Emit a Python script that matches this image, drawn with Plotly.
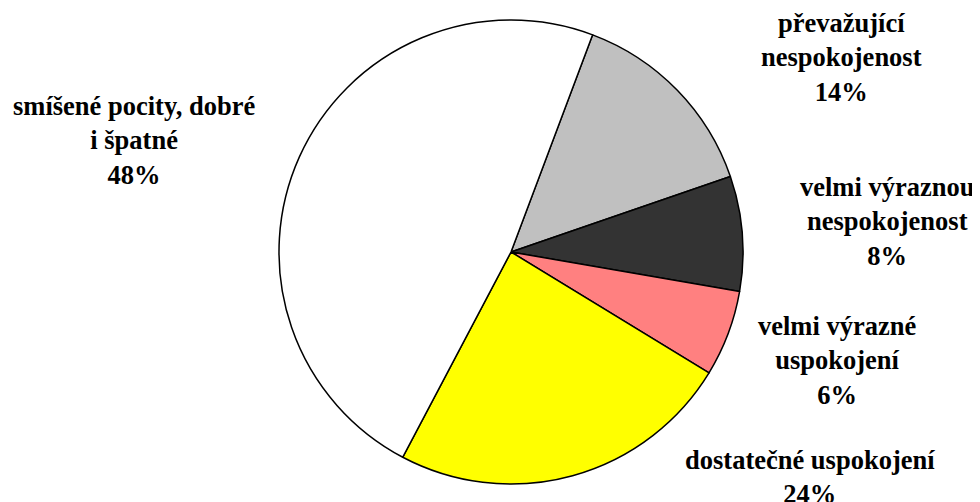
import plotly.graph_objects as go

# slices, clockwise from the top-right
labels = ["převažující<br>nespokojenost",
          "velmi výraznou<br>nespokojenost",
          "velmi výrazné<br>uspokojení",
          "dostatečné uspokojení",
          "smíšené pocity, dobré<br>i špatné"]
values = [14, 8, 6, 24, 48]
colors = ["#C0C0C0", "#333333", "#FF8080", "#FFFF00", "#FFFFFF"]

W, H = 980, 502
L, R, T, B = 34, 8, 12, 26
PAGE_OFFSET = 8  # body margin of the html page
SERIF = "Liberation Serif"

# label block centres in screen pixels
label_pos = [(841, 57), (887, 222), (837, 360), (810, 477), (134, 140)]


def px_to_paper(x, y):
    x -= PAGE_OFFSET
    y -= PAGE_OFFSET
    return (x - L) / (W - L - R), 1 - (y - T) / (H - T - B)


fig = go.Figure()
fig.add_trace(go.Pie(
    labels=labels, values=values, sort=False, direction="clockwise",
    rotation=20.6, textinfo="none", hoverinfo="label+percent",
    marker=dict(colors=colors, line=dict(color="black", width=1.5)),
))

for lab, val, (x, y) in zip(labels, values, label_pos):
    ax, ay = px_to_paper(x, y)
    text = "<br>".join(f"<b>{part}</b>" for part in (lab + f"<br>{val}%").split("<br>"))
    fig.add_annotation(x=ax, y=ay, xref="paper", yref="paper",
                       text=text, showarrow=False,
                       xanchor="center", yanchor="middle", align="center",
                       font=dict(family=SERIF, size=26.5, color="black"))

fig.update_layout(
    width=W, height=H,
    margin=dict(l=L, r=R, t=T, b=B),
    showlegend=False,
    font=dict(family=SERIF, size=26.5, color="black"),
    paper_bgcolor="white",
    plot_bgcolor="white",
)

fig.write_html("out.html")
